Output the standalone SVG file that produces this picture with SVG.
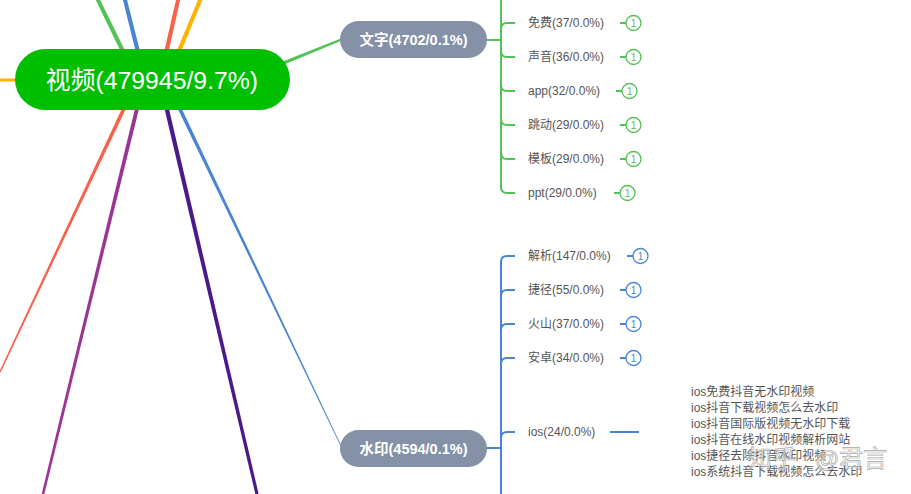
<svg xmlns="http://www.w3.org/2000/svg" width="911" height="494" viewBox="0 0 911 494">
<style>
.lbl{font-family:"Liberation Sans","Noto Sans CJK SC",sans-serif;font-size:12px;fill:#555}
.node-t{font-family:"Liberation Sans","Noto Sans CJK SC",sans-serif;font-size:14.5px;font-weight:bold;fill:#fff;text-anchor:middle}
.gr{stroke:#55C257;stroke-width:2;fill:none}
.bl{stroke:#4A85D4;stroke-width:2;fill:none}
.cg{fill:#fff;stroke:#55C257;stroke-width:1.3}
.cb{fill:#fff;stroke:#4A85D4;stroke-width:1.3}
.n1{font-family:"Liberation Sans",sans-serif;font-size:10px;text-anchor:middle}
.wm{font-family:"Liberation Sans","Noto Sans CJK SC",sans-serif;font-size:24px;fill:#fff;fill-opacity:0.5;stroke:#a8a8a8;stroke-width:0.7}
</style>
<rect width="911" height="494" fill="#fff"/>
<g id="connectors">
  <rect x="0" y="78.5" width="22" height="3" fill="#FFB300"/>
  <polygon points="138.98,79.04 98.80,-2.88 95.20,-1.12 135.02,80.96" fill="#55C257"/>
  <polygon points="147.13,79.47 126.44,-2.49 122.56,-1.51 142.87,80.53" fill="#4A85D4"/>
  <polygon points="162.15,80.48 180.45,-1.56 176.55,-2.44 157.85,79.52" fill="#F8624A"/>
  <polygon points="169.03,80.84 202.85,-1.23 199.15,-2.77 164.97,79.16" fill="#FFB300"/>
  <polygon points="265.68,72.17 345.45,39.11 344.55,36.89 264.32,68.83" fill="#55C257"/>
  <polygon points="137.81,83.85 0.68,372.32 -0.68,371.68 134.19,82.15" fill="#F8624A"/>
  <polygon points="145.94,80.47 44.26,494.31 41.74,493.69 142.06,79.53" fill="#9B3593"/>
  <polygon points="162.14,79.50 258.56,493.64 255.44,494.36 157.86,80.50" fill="#4A1A8C"/>
  <polygon points="167.80,79.14 341.32,445.85 340.68,446.15 164.20,80.86" fill="#4A85D4"/>
  <path class="gr" d="M487,40 H501"/>
  <path class="gr" d="M501,40 V-5 Q501,-11 507,-11 H515"/>
  <path class="gr" d="M501,40 V29 Q501,23 507,23 H515"/>
  <path class="gr" d="M501,40 V51 Q501,57 507,57 H515"/>
  <path class="gr" d="M501,40 V85 Q501,91 507,91 H515"/>
  <path class="gr" d="M501,40 V119 Q501,125 507,125 H515"/>
  <path class="gr" d="M501,40 V153 Q501,159 507,159 H515"/>
  <path class="gr" d="M501,40 V187 Q501,193 507,193 H515"/>
  <path class="gr" d="M620,23 H626 M620,57 H626 M616,91 H622 M620,125 H626 M620,159 H626 M614,193 H620"/>
  <path class="bl" d="M487,448 H501"/>
  <path class="bl" d="M501,448 V262 Q501,256 507,256 H515"/>
  <path class="bl" d="M501,448 V296 Q501,290 507,290 H515"/>
  <path class="bl" d="M501,448 V330 Q501,324 507,324 H515"/>
  <path class="bl" d="M501,448 V364 Q501,358 507,358 H515"/>
  <path class="bl" d="M501,448 V438 Q501,432 507,432 H515"/>
  <path class="bl" d="M501,448 V500"/>
  <path class="bl" d="M627,256 H633 M620,290 H626 M620,324 H626 M620,358 H626"/>
  <path class="bl" d="M610,432 H639"/>
</g>
<g id="root">
  <rect x="15" y="49" width="275" height="61" rx="30.5" fill="#00BF00"/>
  <text x="152" y="88.5" font-family="'Liberation Sans','Noto Sans CJK SC',sans-serif" font-size="24.8" fill="#fff" text-anchor="middle">视频(479945/9.7%)</text>
</g>
<g id="node-wenzi">
  <rect x="340" y="21" width="147" height="37" rx="18.5" fill="#8591A7"/>
  <text class="node-t" x="413.5" y="44.5">文字(4702/0.1%)</text>
</g>
<g id="node-shuiyin">
  <rect x="340" y="430" width="147" height="37" rx="18.5" fill="#8591A7"/>
  <text class="node-t" x="413.5" y="453.5">水印(4594/0.1%)</text>
</g>
<g id="wenzi-children">
  <text class="lbl" x="528" y="27.3">免费(37/0.0%)</text>
  <circle class="cg" cx="633.5" cy="23" r="7.5"/><text class="n1" x="633.5" y="26.6" fill="#55C257">1</text>
  <text class="lbl" x="528" y="61.3">声音(36/0.0%)</text>
  <circle class="cg" cx="633.5" cy="57" r="7.5"/><text class="n1" x="633.5" y="60.6" fill="#55C257">1</text>
  <text class="lbl" x="528" y="95.3">app(32/0.0%)</text>
  <circle class="cg" cx="629.5" cy="91" r="7.5"/><text class="n1" x="629.5" y="94.6" fill="#55C257">1</text>
  <text class="lbl" x="528" y="129.3">跳动(29/0.0%)</text>
  <circle class="cg" cx="633.5" cy="125" r="7.5"/><text class="n1" x="633.5" y="128.6" fill="#55C257">1</text>
  <text class="lbl" x="528" y="163.3">模板(29/0.0%)</text>
  <circle class="cg" cx="633.5" cy="159" r="7.5"/><text class="n1" x="633.5" y="162.6" fill="#55C257">1</text>
  <text class="lbl" x="528" y="197.3">ppt(29/0.0%)</text>
  <circle class="cg" cx="627.5" cy="193" r="7.5"/><text class="n1" x="627.5" y="196.6" fill="#55C257">1</text>
</g>
<g id="shuiyin-children">
  <text class="lbl" x="528" y="260.3">解析(147/0.0%)</text>
  <circle class="cb" cx="640.5" cy="256" r="7.5"/><text class="n1" x="640.5" y="259.6" fill="#4A85D4">1</text>
  <text class="lbl" x="528" y="294.3">捷径(55/0.0%)</text>
  <circle class="cb" cx="633.5" cy="290" r="7.5"/><text class="n1" x="633.5" y="293.6" fill="#4A85D4">1</text>
  <text class="lbl" x="528" y="328.3">火山(37/0.0%)</text>
  <circle class="cb" cx="633.5" cy="324" r="7.5"/><text class="n1" x="633.5" y="327.6" fill="#4A85D4">1</text>
  <text class="lbl" x="528" y="362.3">安卓(34/0.0%)</text>
  <circle class="cb" cx="633.5" cy="358" r="7.5"/><text class="n1" x="633.5" y="361.6" fill="#4A85D4">1</text>
  <text class="lbl" x="528" y="436.3">ios(24/0.0%)</text>
</g>
<g id="ios-list">
  <text class="lbl" x="691" y="396">ios免费抖音无水印视频</text>
  <text class="lbl" x="691" y="412">ios抖音下载视频怎么去水印</text>
  <text class="lbl" x="691" y="428">ios抖音国际版视频无水印下载</text>
  <text class="lbl" x="691" y="444">ios抖音在线水印视频解析网站</text>
  <text class="lbl" x="691" y="460">ios捷径去除抖音水印视频</text>
  <text class="lbl" x="691" y="476">ios系统抖音下载视频怎么去水印</text>
</g>
<g id="watermark">
  <text class="wm" x="748" y="467">知乎</text>
  <text class="wm" x="815" y="467">@君言</text>
</g>
</svg>
